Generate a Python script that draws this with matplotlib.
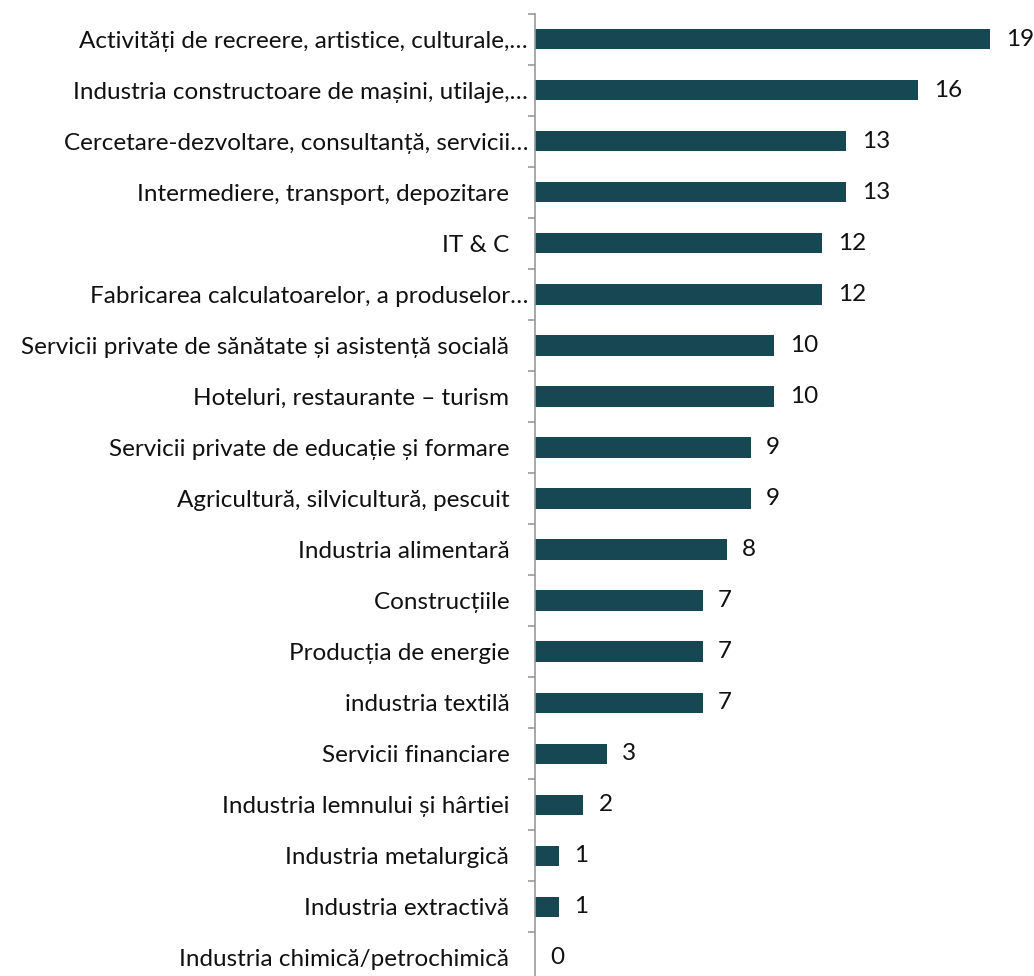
import matplotlib.pyplot as plt
import numpy as np

plt.rcParams['font.family'] = ['Lato', 'DejaVu Sans']

categories = [
    "Activități de recreere, artistice, culturale,…",
    "Industria constructoare de mașini, utilaje,…",
    "Cercetare-dezvoltare, consultanță, servicii…",
    "Intermediere, transport, depozitare",
    "IT & C",
    "Fabricarea calculatoarelor, a produselor…",
    "Servicii private de sănătate și asistență socială",
    "Hoteluri, restaurante – turism",
    "Servicii private de educație și formare",
    "Agricultură, silvicultură, pescuit",
    "Industria alimentară",
    "Construcțiile",
    "Producția de energie",
    "industria textilă",
    "Servicii financiare",
    "Industria lemnului și hârtiei",
    "Industria metalurgică",
    "Industria extractivă",
    "Industria chimică/petrochimică",
]
values = [19, 16, 13, 13, 12, 12, 10, 10, 9, 9, 8, 7, 7, 7, 3, 2, 1, 1, 0]
truncated = [c.endswith("…") for c in categories]

W, H = 1034, 976
fig = plt.figure(figsize=(W / 100, H / 100), dpi=100)
ax = fig.add_axes([535 / W, -7.5 / H, (990 - 535) / W, (983.5 - 13.5) / H])

y = np.arange(len(categories))
ax.barh(y, values, height=0.4, color='#174753')
ax.set_xlim(0, 19)
ax.set_ylim(len(categories) - 0.5, -0.5)

labels = [c if t else c + "   " for c, t in zip(categories, truncated)]
ax.set_yticks(y)
ax.set_yticklabels(labels, fontsize=17.5, color='#111111')
ax.tick_params(axis='y', which='major', length=0, pad=5)
ax.set_yticks(np.arange(-0.5, len(categories), 1), minor=True)
ax.tick_params(axis='y', which='minor', length=5, width=1.2, color='#999999')
ax.set_xticks([])

for s in ['top', 'right', 'bottom']:
    ax.spines[s].set_visible(False)
ax.spines['left'].set_color('#999999')
ax.spines['left'].set_linewidth(1.2)

for yi, v in zip(y, values):
    ax.text(v + 0.65, yi, str(v), va='center', ha='left', fontsize=17.5,
            color='#111111', clip_on=False)

fig.savefig('out.png', dpi=100)
